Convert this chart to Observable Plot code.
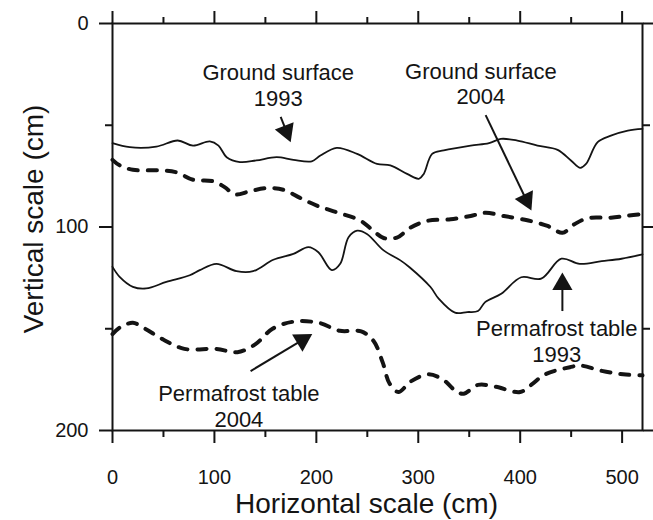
<!DOCTYPE html>
<html><head><meta charset="utf-8">
<script src="https://cdn.jsdelivr.net/npm/d3@7"></script>
<script src="https://cdn.jsdelivr.net/npm/@observablehq/plot@0.6"></script>
<style>body{margin:0;background:#fff}</style>
</head><body><div id="chart"></div>
<script>
// Ground surface 1993 (solid)
const gs1993X = [0,17,43,64,79,95.5,104,112,125,141,161,177.5,195.5,204,220,240,259.5,272.6,289,300.5,305.4,313.6,325,351.4,369.4,381,397.3,417,436.7,449.8,459,464.6,476,489,505.6,520];
const gs1993Y = [58.8,60.8,60.5,57.5,60.0,57.9,60.0,65.7,68.1,67.3,65.7,67.0,67.7,64.9,61.1,64.1,69.0,69.7,73.9,76.3,73.9,64.1,62.4,60.0,58.8,56.7,57.5,60.0,62.1,67.3,70.9,69.0,58.3,55.1,52.6,51.8];
// Ground surface 2004 (dashed)
const gs2004X = [0,7,20,46,62.6,79,98.6,110,120,134.8,151,167.6,184,200.5,220,243,256,266,279,292.3,308.6,331.7,351.4,366,384,407,426.8,441.5,453,466,489,505,520];
const gs2004Y = [67.0,69.7,71.9,72.2,73.1,76.8,77.5,80.4,84.0,82.4,80.9,81.7,85.7,89.5,92.8,96.8,101.9,105.4,105.2,100.3,97.0,96.2,94.6,93.0,94.6,96.7,99.5,102.8,98.7,95.7,95.4,94.5,93.6];
// Permafrost table 1993 (solid)
const pt1993X = [0,7,20,33,52.8,75.8,85.6,102,121.7,138,157.8,177.5,192.2,202,215.2,223.4,231.6,240,249.6,266,282.5,292,312,320,336,348,358.6,365.6,381.4,401,420.6,440.4,458.4,480,499.4,520];
const pt1993Y = [119.6,124.5,129.4,130.2,127.0,123.7,121.2,118.1,121.7,121.7,116.1,113.2,109.9,112.4,121.2,118.1,105.0,101.8,103.4,111.5,116.4,120.0,129.5,135.2,142.1,141.8,141.3,136.9,132.8,124.7,125.4,115.6,118.1,116.8,115.6,113.5];
// Permafrost table 2004 (dashed)
const pt2004X = [0,7.8,20,32,49.7,70.5,101.7,122.6,140,157,178,202.4,223,244,256,265,271.8,280.5,292.6,310,324,338,344.7,358.6,376,400,410.7,424.5,448.8,459,480,501,520];
const pt2004Y = [152.6,149.2,147.1,150.0,155.3,159.9,159.9,161.5,157.7,150.0,146.5,147.1,151.0,151.3,155.9,166.4,176.9,181.1,175.9,172.4,174.9,181.1,181.9,177.6,178.5,181.1,177.6,172.4,168.9,168.1,170.7,172.4,172.9];

// Tick values
const xMajorTicks = [0,100,200,300,400,500];
const xMinorTicks = [50,150,250,350,450];
const yMajorTicks = [0,100,200];
const yMinorTicks = [50,150];

// Annotations
const labelText = ["Ground surface\n1993","Ground surface\n2004","Permafrost table\n1993","Permafrost table\n2004"];
const labelX = [162.6,361.4,435.9,124];
const labelY = [40.3,39.8,166.1,198.5];
const arrowX1 = [165,366.1,441.4,135.5];
const arrowY1 = [45.9,45,141.3,170.8];
const arrowX2 = [174.8,411,441.4,196];
const arrowY2 = [58.3,91.9,122.3,152.6];

const W = 653, H = 520, mL = 112, mR = 11, mT = 23, mB = 90;
const xDomain = [0,520], yDomain = [0,200];
const kx = (W - mL - mR) / (xDomain[1]-xDomain[0]);
const ky = (H - mT - mB) / (yDomain[1]-yDomain[0]);

const toRows = (xs, ys) => xs.map((x,i) => ({x, y: ys[i]}));
const labels = labelText.map((t,i) => ({t, x: labelX[i], y: labelY[i]}));
const headR = 7.5, tipOff = 1.555*headR;
const arrows = arrowX1.map((x1,i) => {
  const x2 = arrowX2[i], y2 = arrowY2[i];
  const sx = (x2-x1)*kx, sy = (y2-arrowY1[i])*ky;
  const L = Math.hypot(sx,sy), ux = sx/L, uy = sy/L;
  return {
    x1, y1: arrowY1[i],
    xe: x2 - ux*(tipOff+2)/kx, ye: y2 - uy*(tipOff+2)/ky,
    xc: x2 - ux*tipOff/kx, yc: y2 - uy*tipOff/ky,
    rot: Math.atan2(ux, -uy)*180/Math.PI
  };
});

const ink = "#141414";
const blank = () => "";
const chart = Plot.plot({
  width: W, height: H,
  marginLeft: mL, marginRight: mR, marginTop: mT, marginBottom: mB,
  x: {domain: xDomain},
  y: {domain: yDomain, reverse: true},
  style: {fontFamily: "'Liberation Sans', Arial, sans-serif", fontSize: "20px", color: ink, background: "#fff"},
  marks: [
    Plot.axisX({anchor: "bottom", ticks: xMajorTicks, tickSize: 13, tickPadding: 26, strokeWidth: 2, label: null}),
    Plot.axisX({anchor: "bottom", ticks: xMinorTicks, tickSize: 7, strokeWidth: 2, tickFormat: blank, label: null}),
    Plot.axisX({anchor: "top", ticks: xMajorTicks, tickSize: 13, strokeWidth: 2, tickFormat: blank, label: null}),
    Plot.axisX({anchor: "top", ticks: xMinorTicks, tickSize: 7, strokeWidth: 2, tickFormat: blank, label: null}),
    Plot.axisY({anchor: "left", ticks: yMajorTicks, tickSize: 13, tickPadding: 11, strokeWidth: 2, label: null}),
    Plot.axisY({anchor: "left", ticks: yMinorTicks, tickSize: 7, strokeWidth: 2, tickFormat: blank, label: null}),
    Plot.axisY({anchor: "right", ticks: yMajorTicks, tickSize: 13, strokeWidth: 2, tickFormat: blank, label: null}),
    Plot.axisY({anchor: "right", ticks: yMinorTicks, tickSize: 7, strokeWidth: 2, tickFormat: blank, label: null}),
    Plot.frame({stroke: ink, strokeWidth: 2}),
    Plot.line(toRows(gs1993X, gs1993Y), {x: "x", y: "y", stroke: ink, strokeWidth: 1.8, curve: "catmull-rom"}),
    Plot.line(toRows(gs2004X, gs2004Y), {x: "x", y: "y", stroke: ink, strokeWidth: 4, strokeDasharray: "9,10", strokeLinecap: "round", curve: "catmull-rom"}),
    Plot.line(toRows(pt1993X, pt1993Y), {x: "x", y: "y", stroke: ink, strokeWidth: 1.8, curve: "catmull-rom"}),
    Plot.line(toRows(pt2004X, pt2004Y), {x: "x", y: "y", stroke: ink, strokeWidth: 4, strokeDasharray: "9,10", strokeLinecap: "round", curve: "catmull-rom"}),
    Plot.link(arrows, {x1: "x1", y1: "y1", x2: "xe", y2: "ye", stroke: ink, strokeWidth: 2}),
    Plot.dot(arrows, {x: "xc", y: "yc", symbol: "triangle", r: headR, rotate: "rot", fill: ink, stroke: null}),
    Plot.text(labels, {x: "x", y: "y", text: "t", fontSize: 22, lineHeight: 1.18, lineAnchor: "bottom", textAnchor: "middle", fill: ink}),
    Plot.text(["Horizontal scale (cm)"], {frameAnchor: "bottom", dx: -11, dy: 82, lineAnchor: "bottom", textAnchor: "middle", fontSize: 28, fill: ink}),
    Plot.text(["Vertical scale (cm)"], {frameAnchor: "left", dx: -70, dy: -8, rotate: -90, lineAnchor: "bottom", textAnchor: "middle", fontSize: 28, fill: ink})
  ]
});
document.getElementById("chart").appendChild(chart);
</script>
</body></html>
